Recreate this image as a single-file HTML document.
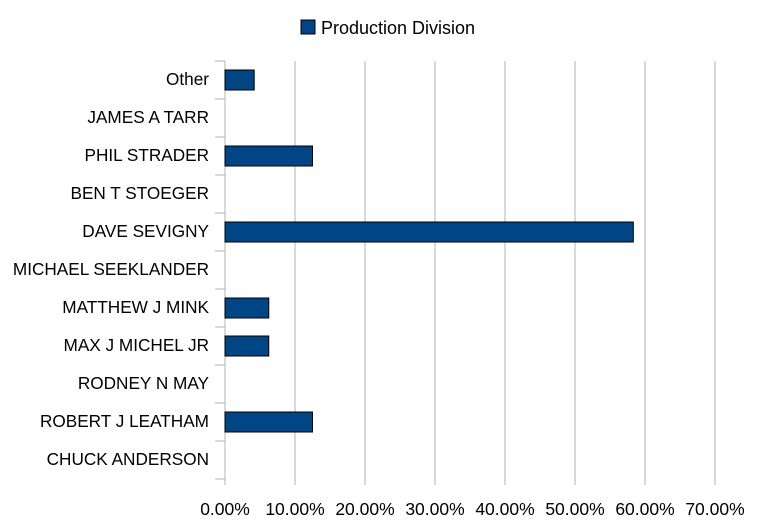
<!DOCTYPE html>
<html><head><meta charset="utf-8"><style>
body{margin:0;background:#fff;}
svg{display:block;font-family:"Liberation Sans",sans-serif;}
</style></head><body>
<svg id="chart" width="778" height="529" viewBox="0 0 778 529">
<g>
<rect x="301" y="20" width="14" height="14" fill="#004586" stroke="#000" stroke-width="1"/>
<text x="321" y="34" font-size="18" fill="#000">Production Division</text>
</g>
<g id="grid"></g><g id="bars"></g><g id="labels"></g>
</svg>
<script>
const categories=["Other","JAMES A TARR","PHIL STRADER","BEN T STOEGER","DAVE SEVIGNY","MICHAEL SEEKLANDER","MATTHEW J MINK","MAX J MICHEL JR","RODNEY  N MAY","ROBERT J LEATHAM","CHUCK ANDERSON"];
const values=[4.17,0,12.5,0,58.33,0,6.25,6.25,0,12.5,0];
const ticks=[0,10,20,30,40,50,60,70];
const tickLabels=["0.00%","10.00%","20.00%","30.00%","40.00%","50.00%","60.00%","70.00%"];
const NS="http://www.w3.org/2000/svg";
const x0=225,x1=715,y0=61,y1=479,xmax=70;
const xs=v=>x0+(v/xmax)*(x1-x0);
const rowH=(y1-y0)/categories.length;
const ys=i=>y0+i*rowH;
function mk(t,a,p){const e=document.createElementNS(NS,t);for(const k in a)e.setAttribute(k,a[k]);p.appendChild(e);return e;}
const grid=document.getElementById('grid'),bars=document.getElementById('bars'),labels=document.getElementById('labels');
ticks.forEach((t,i)=>{
 const l=mk('line',{x1:xs(t),x2:xs(t),y1:y0,y2:y1+6,stroke:'#b3b3b3','stroke-width':1},grid);
 
 
 const tx=mk('text',{x:xs(t),y:515,'font-size':17.5,'text-anchor':'middle',fill:'#000'},labels);
 tx.textContent=tickLabels[i];
 
 
});
for(let i=0;i<=categories.length;i++){
 const l=mk('line',{x1:x0-10,x2:x0,y1:ys(i),y2:ys(i),stroke:'#b3b3b3','stroke-width':1},grid);
 
 
}
const ax=mk('line',{x1:x0,x2:x0,y1:y0,y2:y1,stroke:'#b3b3b3','stroke-width':1},grid);


categories.forEach((c,i)=>{
 const cy=ys(i)+rowH/2;
 const tx=mk('text',{x:209,y:cy+5,'font-size':17.2,'text-anchor':'end',fill:'#000'},labels);
 tx.textContent=c;
 
 
 if(values[i]>0){
  const r=mk('rect',{x:x0,y:cy-10,width:xs(values[i])-x0,height:20,fill:'#004586',stroke:'#000','stroke-width':1},bars);
  
  
 }
});
</script>
</body></html>
